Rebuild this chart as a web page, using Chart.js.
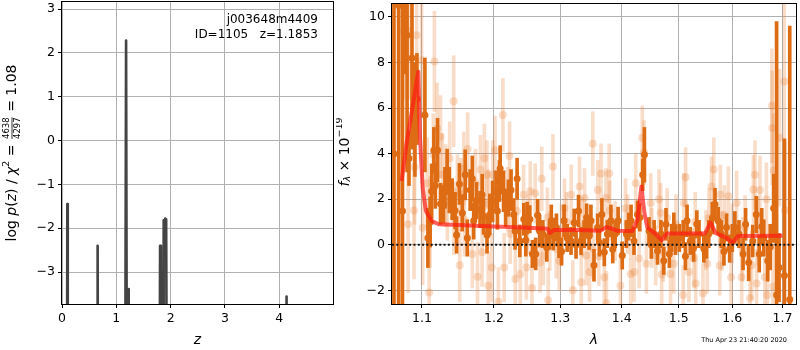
<!DOCTYPE html>
<html lang="en">
<head>
<meta charset="UTF-8" />
<title>j003648m4409 redshift fit</title>
<script src="https://cdn.jsdelivr.net/npm/chart.js@4.4.0/dist/chart.umd.min.js"></script>
<style>
  body { margin: 0; background: #fff; }
  #wrap { position: relative; width: 800px; height: 350px; }
  #pz { position: absolute; left: 0; top: 0; }
  #spec { position: absolute; left: 336px; top: 0; }
</style>
</head>
<body>
<div id="wrap">
  <canvas id="pz" width="340" height="350"></canvas>
  <canvas id="spec" width="464" height="350"></canvas>
</div>
<script>
// ---- p(z) panel ----
const pzZ = [0, 0.090, 0.098, 0.106, 0.646, 0.656, 0.666, 1.160, 1.180, 1.198,
  1.218, 1.228, 1.238, 1.792, 1.806, 1.822, 1.838, 1.860, 1.872, 1.886,
  1.900, 1.918, 1.935, 4.120, 4.135, 4.150, 4.99];
const pzLog = [-8, -8, -1.45, -8, -8, -2.40, -8, -8, 2.28, -8,
  -8, -3.39, -8, -8, -2.40, -2.42, -8, -8, -1.82, -2.62,
  -1.78, -1.80, -8, -8, -3.56, -8, -8];
const zTicks = [0, 1, 2, 3, 4];
const pzTicks = [-3, -2, -1, 0, 1, 2, 3];

// ---- spectrum panel ----
const waveTicks = [1.1, 1.2, 1.3, 1.4, 1.5, 1.6, 1.7];
const fluxTicks = [-2, 0, 2, 4, 6, 8, 10];

const darkWave = [
  1.0635, 1.0695, 1.0745, 1.0778, 1.0805, 1.0830, 1.0869, 1.0908, 1.0934, 1.1040,
  1.108, 1.113, 1.116, 1.118, 1.121, 1.125, 1.129, 1.131, 1.137, 1.145,
  1.147, 1.151, 1.155, 1.159, 1.162, 1.166, 1.171, 1.175, 1.180, 1.185,
  1.190, 1.194, 1.203, 1.205, 1.208, 1.209, 1.214, 1.217, 1.221, 1.225,
  1.229, 1.234, 1.238, 1.244, 1.249, 1.253, 1.257, 1.262, 1.268, 1.273,
  1.279, 1.286, 1.289, 1.294, 1.298, 1.306, 1.311, 1.317, 1.322, 1.329,
  1.333, 1.338, 1.346, 1.349, 1.354, 1.360, 1.367, 1.371, 1.376, 1.382,
  1.389, 1.394, 1.401, 1.408, 1.416, 1.421, 1.427, 1.436, 1.439, 1.447,
  1.456, 1.462, 1.468, 1.477, 1.483, 1.487, 1.494, 1.501, 1.508, 1.515,
  1.521, 1.527, 1.537, 1.546, 1.555, 1.562, 1.567, 1.573, 1.579, 1.589,
  1.595, 1.605, 1.613, 1.621, 1.632, 1.640, 1.647, 1.653, 1.662, 1.670,
  1.682, 1.688, 1.693, 1.704, 1.715, 1.111, 1.134, 1.141, 1.169, 1.183,
  1.198, 1.231, 1.247, 1.265, 1.283, 1.302, 1.325, 1.342, 1.363, 1.385,
  1.412, 1.431, 1.451, 1.473, 1.491, 1.512, 1.533, 1.551, 1.584, 1.600,
  1.626, 1.658, 1.675];
const darkFlux = [
  4.0, 10.5, 1.48, 10.5, 9.2, 3.8, 8.2, 5.5, 6.4, 5.7,
  0.3, 2.35, 4.15, 2.6, 4.15, 1.8, 1.75, 2.5, 2.4, 1.5,
  0.43, 2.67, 1.4, 3.07, 0.3, 2.4, 1.05, 1.94, 1.55, 1.26,
  0.43, 1.33, 2.35, 1.48, 2.8, 3.35, 2.35, 1.6, 2.05, 2.4,
  1.33, 2.9, 0.17, 1.12, 1.17, 1.12, -0.4, -0.4, 0.6, 0.47,
  -0.13, 1.05, 0.47, 0.76, 0.03, 1.05, 0.3, 0.17, 0.97, 1.48,
  0.17, 0.47, 0.39, 1.05, -0.9, 0.76, 1.33, -0.33, 0.47, 1.05,
  0.47, 1.05, -0.47, 0.47, 1.05, 0.17, 1.33, 3.07, 3.95, 0.6,
  0.47, -0.26, 0.47, 0.9, -0.4, 0.3, 0.17, 0.3, 0.47, 1.05,
  0.17, -0.13, 0.47, -0.17, 0.47, 1.17, 1.78, 1.05, 0.47, 0.76,
  -0.17, 0.76, 0.47, -0.4, -0.78, 0.17, 1.33, -0.4, 0.3, -0.7,
  1.6, -2.2, -1.0, -1.35, -2.4, 1.0, 3.2, 2.0, 2.9, 2.2,
  1.9, 0.6, 0.2, 1.3, 0.4, -0.3, 0.0, 1.2, 0.1, -0.2,
  0.8, 1.2, 0.0, -0.7, 0.8, -0.5, 0.9, 0.0, -0.3, 0.3,
  0.9, 0.8, -0.1];
const darkErr = [
  9, 14, 10, 3, 6, 1.2, 4, 2.5, 2, 2.5,
  1.3, 1.2, 1.0, 1.0, 1.4, 0.9, 0.8, 0.9, 1.0, 0.8,
  0.8, 0.9, 0.8, 1.1, 0.8, 0.9, 0.8, 0.8, 0.8, 0.8,
  0.8, 0.9, 0.9, 0.8, 0.9, 1.0, 0.9, 0.8, 0.8, 0.9,
  0.7, 0.9, 0.7, 0.7, 0.7, 0.6, 0.6, 0.7, 0.7, 0.6,
  0.6, 0.7, 0.7, 0.6, 0.6, 0.7, 0.6, 0.6, 0.6, 0.7,
  0.6, 0.6, 0.6, 0.7, 0.7, 0.6, 0.7, 0.6, 0.6, 0.7,
  0.6, 0.6, 0.6, 0.6, 0.7, 0.6, 0.6, 0.7, 1.2, 0.6,
  0.6, 0.6, 0.6, 0.7, 0.6, 0.6, 0.6, 0.6, 0.6, 0.7,
  0.6, 0.6, 0.6, 0.6, 0.6, 0.7, 0.7, 0.6, 0.6, 0.6,
  0.6, 0.7, 0.6, 0.7, 0.8, 0.7, 0.8, 0.8, 0.8, 0.9,
  1.5, 12, 1.5, 6, 12, 1.1, 1.0, 0.9, 1.0, 0.9,
  0.9, 0.8, 0.7, 0.7, 0.6, 0.6, 0.6, 0.6, 0.6, 0.6,
  0.6, 0.6, 0.6, 0.6, 0.6, 0.6, 0.6, 0.6, 0.6, 0.6,
  0.7, 0.8, 1.0];

const lightWave = [
  1.0757, 1.0830, 1.0930, 1.0996, 1.1167, 1.1430, 1.1250, 1.1375, 1.1625, 1.0896,
  1.0818, 1.1010, 1.1097, 1.1204, 1.1274, 1.1343, 1.1432, 1.1514, 1.1570, 1.1690,
  1.1764, 1.1806, 1.1861, 1.1899, 1.1917, 1.1968, 1.1829, 1.1736, 1.1482, 1.1153,
  1.1069, 1.0903, 1.2130, 1.2015, 1.2228, 1.1982, 1.2149, 1.2064, 1.2313, 1.2388,
  1.2478, 1.2563, 1.2713, 1.2886, 1.2687, 1.2737, 1.2812, 1.2937, 1.2985, 1.3173,
  1.3306, 1.3198, 1.3334, 1.3468, 1.3521, 1.2537, 1.2437, 1.2612, 1.2338, 1.3066,
  1.3387, 1.2238, 1.3021, 1.2836, 1.3414, 1.3656, 1.3790, 1.3602, 1.3737, 1.4353,
  1.4383, 1.4240, 1.4500, 1.4646, 1.4676, 1.5124, 1.5093, 1.3525, 1.3710, 1.3745,
  1.3978, 1.4154, 1.4212, 1.4298, 1.4425, 1.4588, 1.4693, 1.4851, 1.4909, 1.5080,
  1.5185, 1.4065, 1.3890, 1.4791, 1.5648, 1.5605, 1.5772, 1.5926, 1.6085, 1.6446,
  1.6413, 1.6544, 1.6674, 1.6785, 1.6790, 1.6820, 1.6938, 1.7037, 1.7049, 1.5277,
  1.5309, 1.5444, 1.5524, 1.5760, 1.5977, 1.6183, 1.6348, 1.6477, 1.6642, 1.6693,
  1.6805, 1.5803, 1.6250, 1.5555, 1.3100, 1.3800, 1.4520, 1.5300, 1.6000, 1.2500,
  1.1920, 1.1530, 1.2200, 1.2800, 1.3350, 1.3620, 1.4100, 1.4720, 1.4950, 1.5500,
  1.5850, 1.6200, 1.6510, 1.6380, 1.1110, 1.1320, 1.1580];
const lightFlux = [
  9.4, 9.4, 9.2, 8.1, 8.05, 6.3, 4.75, 3.8, 4.2, 1.5,
  0.9, 0.75, -2.1, 5.1, 3.07, 1.9, 1.17, -0.9, 3.35, -0.4,
  -1.4, 3.3, 3.8, 3.07, -1.8, -1.0, -0.33, 2.7, 2.35, 3.95,
  2.7, 3.4, 5.7, 4.15, 3.9, 3.07, -1.0, -2.5, -1.5, -1.28,
  -1.0, -1.9, 2.9, 3.44, -0.78, -0.47, -2.43, -0.17, -0.7, 2.2,
  2.56, -2.0, -1.65, -1.2, 4.44, 2.35, 2.2, 2.26, 1.48, 1.6,
  2.05, 0.47, 0.47, 0.17, -0.47, 3.13, 3.13, 2.4, 2.05, 4.7,
  4.05, 2.7, 1.83, 2.0, 1.4, 2.96, 1.83, -0.17, -1.43, -2.57,
  -1.8, -1.28, -1.2, -0.6, -0.83, -0.47, -1.3, -1.28, -0.83, -2.2,
  -1.2, 1.6, 0.6, 1.17, 3.3, 2.56, 2.2, 2.13, 1.83, 3.07,
  2.43, 2.4, 2.0, 6.1, 5.13, 3.26, 4.7, 7.17, 1.52, -0.6,
  -1.7, -2.13, -0.83, -0.91, -1.43, -1.43, -2.35, -1.7, -1.43, -2.2,
  -1.83, 0.17, 0.76, 1.17, 1.0, 1.5, 0.3, 1.0, 0.5, 0.9,
  1.8, 2.2, 2.0, 1.2, 0.8, -0.5, 0.9, -0.3, 0.9, 0.2,
  1.3, -0.2, 0.6, -0.9, 1.0, 2.6, 1.1];
const lightErr = [
  3, 3, 3, 2.5, 2.2, 2, 1.8, 1.6, 1.6, 3,
  3, 2.5, 2, 2, 1.8, 1.7, 1.6, 1.6, 1.6, 1.5,
  1.5, 1.5, 1.5, 1.5, 1.5, 1.5, 1.5, 1.5, 1.6, 1.8,
  2, 2.5, 1.6, 1.5, 1.5, 1.5, 1.5, 1.5, 1.4, 1.4,
  1.4, 1.4, 1.4, 1.4, 1.3, 1.3, 1.4, 1.3, 1.3, 1.3,
  1.3, 1.3, 1.3, 1.3, 1.4, 1.3, 1.3, 1.3, 1.3, 1.3,
  1.3, 1.3, 1.3, 1.3, 1.3, 1.3, 1.3, 1.3, 1.3, 1.4,
  1.4, 1.3, 1.3, 1.3, 1.3, 1.3, 1.3, 1.3, 1.3, 1.4,
  1.3, 1.3, 1.3, 1.3, 1.3, 1.3, 1.3, 1.3, 1.3, 1.3,
  1.3, 1.3, 1.3, 1.3, 1.4, 1.3, 1.3, 1.3, 1.4, 1.5,
  1.5, 1.5, 1.6, 2.5, 2.5, 2.5, 3, 3.5, 3, 1.3,
  1.3, 1.3, 1.3, 1.3, 1.3, 1.4, 1.4, 1.5, 1.5, 1.6,
  2, 1.3, 1.4, 1.3, 1.3, 1.3, 1.3, 1.3, 1.3, 1.3,
  1.5, 1.6, 1.4, 1.3, 1.3, 1.3, 1.3, 1.3, 1.3, 1.3,
  1.3, 1.4, 1.5, 1.5, 2, 1.8, 1.6];

const modelWave = [1.0734, 1.080, 1.0865, 1.0952, 1.0974, 1.101, 1.1053, 1.1128, 1.1227, 1.15,
  1.20, 1.25, 1.280, 1.284, 1.290, 1.330, 1.365, 1.375, 1.392, 1.418,
  1.427, 1.4338, 1.439, 1.444, 1.4588, 1.469, 1.479, 1.548, 1.5586, 1.568,
  1.589, 1.6006, 1.6117, 1.700];
const modelFlux = [2.8, 4.5, 5.8, 7.6, 4.8, 2.5, 1.48, 1.05, 0.9, 0.87,
  0.8, 0.75, 0.7, 0.52, 0.65, 0.65, 0.62, 0.78, 0.62, 0.6,
  1.1, 2.56, 1.4, 0.76, 0.47, 0.2, 0.5, 0.5, 0.97, 0.52,
  0.3, 0.09, 0.39, 0.4];
const zeroWave = [1.05, 1.74];

const FONT = '"DejaVu Sans"';
Chart.defaults.font.family = 'DejaVu Sans';
Chart.defaults.color = '#000';

const minus = v => String(v).replace('-', '\u2212');

function axis(min, max, ticks, fmt, isX, size, type) {
  return {
    type: type || 'linear',
    min: min, max: max, offset: false,
    grid: { color: '#b0b0b0', lineWidth: 1, tickColor: '#000', tickLength: 4, offset: false },
    border: { display: false },
    ticks: { autoSkip: false, maxRotation: 0, padding: 3, font: { size: 12.5 }, callback: fmt },
    afterBuildTicks: s => { s.ticks = ticks.map(v => ({ value: v })); },
    afterFit: s => {
      if (isX) s.height = size; else s.width = size;
      s.paddingTop = 0; s.paddingBottom = 0; s.paddingLeft = 0; s.paddingRight = 0;
    }
  };
}

// draw a run of text pieces (mixed fonts, super/subscripts, a stacked fraction)
function drawRuns(ctx, runs, cx, cy, rot) {
  ctx.save();
  ctx.translate(cx, cy);
  if (rot) ctx.rotate(-Math.PI / 2);
  ctx.textBaseline = 'middle';
  ctx.fillStyle = '#000';
  let total = 0;
  runs.forEach(r => {
    ctx.font = r.f;
    r.w = r.frac ? Math.max(ctx.measureText(r.frac[0]).width, ctx.measureText(r.frac[1]).width) + 2
                 : ctx.measureText(r.t).width;
    total += r.w;
  });
  let x = -total / 2;
  runs.forEach(r => {
    ctx.font = r.f;
    if (r.frac) {
      ctx.textAlign = 'center';
      ctx.fillText(r.frac[0], x + r.w / 2, -5);
      ctx.fillText(r.frac[1], x + r.w / 2, 5.5);
      ctx.fillRect(x + 1, -0.4, r.w - 2, 0.8);
    } else {
      ctx.textAlign = 'left';
      ctx.fillText(r.t, x, r.dy || 0);
    }
    x += r.w;
  });
  ctx.restore();
}

const frame = {
  id: 'frame',
  afterDraw(chart) {
    const { ctx, chartArea: a } = chart;
    ctx.save();
    ctx.strokeStyle = '#000';
    ctx.lineWidth = 1;
    ctx.strokeRect(Math.round(a.left) - 0.5, Math.round(a.top) - 0.5,
      Math.round(a.width) + 1, Math.round(a.height) + 1);
    ctx.restore();
  }
};

const pzText = {
  id: 'pzText',
  afterDraw(chart) {
    const ctx = chart.ctx, a = chart.chartArea;
    const n = '14px ' + FONT, it = 'italic 14px ' + FONT;
    drawRuns(ctx, [
      { t: 'log ', f: n }, { t: 'p', f: it }, { t: '(', f: n }, { t: 'z', f: it },
      { t: ') / ', f: n }, { t: '\u03c7', f: it }, { t: '2', f: '9.5px ' + FONT, dy: -5 },
      { t: ' = ', f: n }, { frac: ['4638', '4297'], f: '8.5px ' + FONT }, { t: ' = 1.08', f: n }
    ], 12, 153, true);
    drawRuns(ctx, [{ t: 'z', f: it }], (a.left + a.right) / 2, 340);
    ctx.save();
    ctx.font = '12px ' + FONT;
    ctx.fillStyle = '#000';
    ctx.textAlign = 'right';
    ctx.textBaseline = 'middle';
    ctx.fillText('j003648m4409', a.right - 15, a.top + 18);
    ctx.fillText('ID=1105   z=1.1853', a.right - 15, a.top + 33);
    ctx.restore();
  }
};

const specText = {
  id: 'specText',
  afterDraw(chart) {
    const ctx = chart.ctx, a = chart.chartArea;
    drawRuns(ctx, [
      { t: 'f', f: 'italic 14px ' + FONT }, { t: '\u03bb', f: 'italic 9.5px ' + FONT, dy: 3 },
      { t: ' \u00d7 10', f: '14px ' + FONT }, { t: '\u221219', f: '9.5px ' + FONT, dy: -5 }
    ], 9, 152, true);
    drawRuns(ctx, [{ t: '\u03bb', f: 'italic 14px ' + FONT }], (a.left + a.right) / 2, 340);
    ctx.save();
    ctx.font = '6.5px ' + FONT;
    ctx.fillStyle = '#000';
    ctx.textAlign = 'right';
    ctx.textBaseline = 'middle';
    ctx.fillText('Thu Apr 23 21:40:20 2020', 451, 340);
    ctx.restore();
  }
};

const common = {
  responsive: false,
  animation: false,
  events: [],
  plugins: { legend: { display: false }, tooltip: { enabled: false } }
};

new Chart(document.getElementById('pz'), {
  type: 'scatter',
  data: {
    datasets: [{
      type: 'line',
      data: pzZ.map((z, i) => ({ x: z, y: pzLog[i] })),
      borderColor: '#444444',
      borderWidth: 2.6,
      borderJoinStyle: 'round',
      borderCapStyle: 'round',
      pointRadius: 0,
      tension: 0,
      clip: 0
    }]
  },
  options: Object.assign({}, common, {
    layout: { padding: { left: 0, right: 7, top: 2, bottom: 0 } },
    scales: {
      x: axis(0, 4.99, zTicks, v => String(v), true, 46),
      y: axis(-3.73, 3.16, pzTicks, v => minus(v), false, 62)
    }
  }),
  plugins: [frame, pzText]
});

const dark = 'rgb(222,108,20)';
const light = 'rgba(232,125,45,0.26)';

new Chart(document.getElementById('spec'), {
  type: 'scatter',
  data: {
    datasets: [
      {
        type: 'line', order: 0,
        data: zeroWave.map(w => ({ x: w, y: 0 })),
        borderColor: '#111', borderWidth: 2, borderDash: [2, 2.3],
        pointRadius: 0, clip: 0
      },
      {
        type: 'line', order: 1,
        data: modelWave.map((w, i) => ({ x: w, y: modelFlux[i] })),
        borderColor: 'rgba(255,25,20,0.7)', borderWidth: 4, pointRadius: 0,
        borderJoinStyle: 'round', tension: 0, clip: 0
      },
      {
        type: 'line', order: 2, showLine: false,
        data: darkWave.map((w, i) => ({ x: w, y: darkFlux[i] })),
        pointRadius: 3.5, backgroundColor: dark, borderWidth: 0, clip: 0
      },
      {
        type: 'bar', order: 3,
        data: darkWave.map((w, i) => ({ x: w, y: [darkFlux[i] - darkErr[i], darkFlux[i] + darkErr[i]] })),
        backgroundColor: dark, barThickness: 3, grouped: false, borderWidth: 0, clip: 0
      },
      {
        type: 'line', order: 4, showLine: false,
        data: lightWave.map((w, i) => ({ x: w, y: lightFlux[i] })),
        pointRadius: 4, backgroundColor: light, borderWidth: 0, clip: 0
      },
      {
        type: 'bar', order: 5,
        data: lightWave.map((w, i) => ({ x: w, y: [lightFlux[i] - lightErr[i], lightFlux[i] + lightErr[i]] })),
        backgroundColor: light, barThickness: 3, grouped: false, borderWidth: 0, clip: 0
      }
    ]
  },
  options: Object.assign({}, common, {
    layout: { padding: { left: 0, right: 1, top: 2, bottom: 0 } },
    scales: {
      x: axis(1.061, 1.728, waveTicks, v => Number(v).toFixed(1), true, 46, 'logarithmic'),
      y: axis(-2.6, 10.57, fluxTicks, v => minus(v), false, 56)
    }
  }),
  plugins: [frame, specText]
});
</script>
</body>
</html>
